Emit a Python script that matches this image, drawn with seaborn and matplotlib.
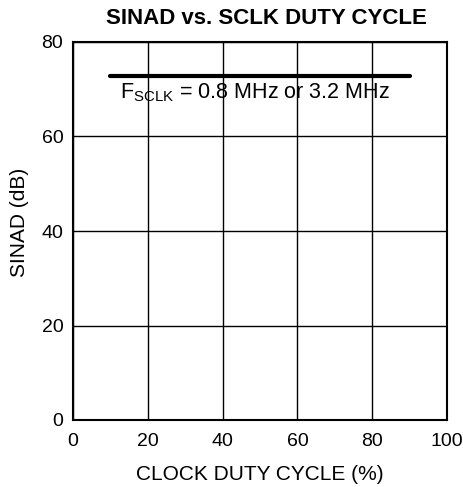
import matplotlib
matplotlib.use("Agg")
import matplotlib.pyplot as plt
import seaborn as sns
import pandas as pd

# SINAD measured across clock duty cycle
duty_cycle = [10, 20, 30, 40, 50, 60, 70, 80, 90]
sinad_db = [72.8, 72.8, 72.8, 72.8, 72.8, 72.8, 72.8, 72.8, 72.8]

x_ticks = [0, 20, 40, 60, 80, 100]
y_ticks = [0, 20, 40, 60, 80]

df = pd.DataFrame({"duty": duty_cycle, "sinad": sinad_db})

sns.set_theme(style="white")
plt.rcParams["font.family"] = ["Liberation Sans", "DejaVu Sans"]
plt.rcParams["mathtext.fontset"] = "custom"
plt.rcParams["mathtext.rm"] = "Liberation Sans"

W, H = 464, 487
fig = plt.figure(figsize=(W / 100, H / 100), dpi=100)
ax = fig.add_axes([73 / W, 1 - 420 / H, 374 / W, 378 / H])

sns.lineplot(data=df, x="duty", y="sinad", ax=ax, color="black", linewidth=3.0)

ax.set_xlim(0, 100)
ax.set_ylim(0, 80)
ax.set_xticks(x_ticks)
ax.set_yticks(y_ticks)
ax.grid(True, color="black", linewidth=1.0)
for s in ax.spines.values():
    s.set_color("black")
    s.set_linewidth(1.5)
ax.tick_params(axis="x", labelsize=14, length=0, colors="black", pad=9.5)
ax.tick_params(axis="y", labelsize=14, length=0, colors="black", pad=7)
ax.set_xlabel("")
ax.set_ylabel("")

fig.text(260 / W, 1 - 474.5 / H, "CLOCK DUTY CYCLE (%)", fontsize=15,
         ha="center", va="center", color="black")
fig.text(20 / W, 1 - 222 / H, "SINAD (dB)", fontsize=15, rotation=90,
         ha="center", va="center", color="black")
fig.text(266 / W, 1 - 18 / H, "SINAD vs. SCLK DUTY CYCLE", fontsize=16,
         fontweight="bold", ha="center", va="center", color="black")

ax.text(48.7, 68.0, r"F$_{\mathrm{SCLK}}$ = 0.8 MHz or 3.2 MHz", fontsize=15.5,
        ha="center", va="baseline", color="black")

fig.savefig("out.png", dpi=100)
